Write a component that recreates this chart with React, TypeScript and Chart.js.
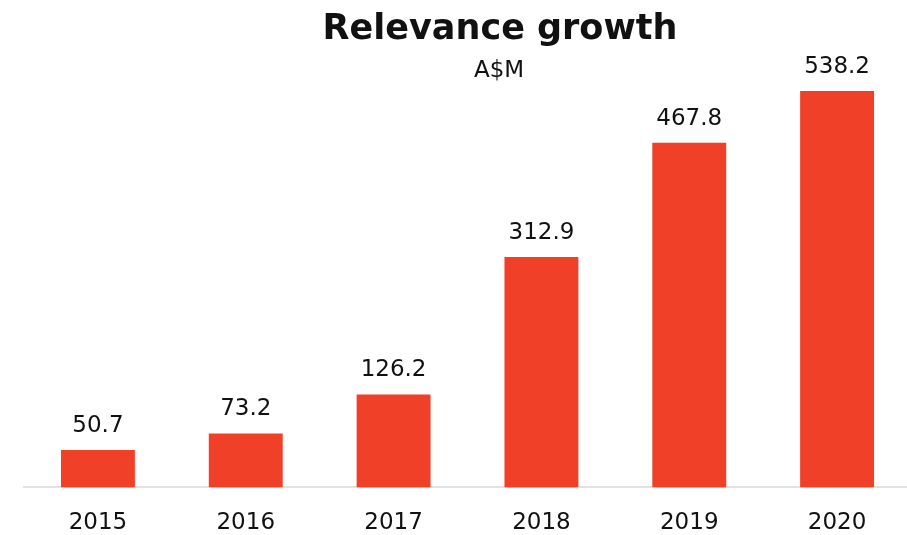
import React, { useEffect, useRef } from "react";
import { Chart, registerables } from "chart.js";

Chart.register(...registerables);

const categories = ["2015", "2016", "2017", "2018", "2019", "2020"];
const revenue = [50.7, 73.2, 126.2, 312.9, 467.8, 538.2];
const titleText = "Relevance growth";
const subtitleText = "A$M";

const FONT = "'DejaVu Sans', sans-serif";

const labelPlugin = {
  id: "valueLabels",
  afterDatasetsDraw(chart: any) {
    const ctx = chart.ctx;
    const meta = chart.getDatasetMeta(0);
    ctx.save();
    ctx.fillStyle = "#111111";
    ctx.font = `400 23px ${FONT}`;
    ctx.textAlign = "center";
    ctx.textBaseline = "alphabetic";
    meta.data.forEach((el: any, i: number) => {
      ctx.fillText(revenue[i].toFixed(1), el.x, el.y - 18);
    });
    ctx.restore();
  },
};

const titlePlugin = {
  id: "customTitle",
  afterDraw(chart: any) {
    const ctx = chart.ctx;
    ctx.save();
    ctx.fillStyle = "#111111";
    ctx.textAlign = "center";
    ctx.textBaseline = "alphabetic";
    ctx.font = `700 35px ${FONT}`;
    ctx.fillText(titleText, 500, 39);
    ctx.font = `400 23px ${FONT}`;
    ctx.fillText(subtitleText, 499, 77);
    ctx.restore();
  },
};

export default function App() {
  const ref = useRef<HTMLCanvasElement | null>(null);
  useEffect(() => {
    document.documentElement.style.overflow = "hidden";
    document.body.style.margin = "0";
    document.body.style.overflow = "hidden";
    const chart = new Chart(ref.current!, {
      type: "bar",
      data: {
        labels: categories,
        datasets: [
          {
            data: revenue,
            backgroundColor: "#F04128",
            borderWidth: 0,
            barPercentage: 0.5,
            categoryPercentage: 1.0,
          },
        ],
      },
      options: {
        animation: false,
        responsive: false,
        maintainAspectRatio: false,
        layout: { padding: { left: 24, right: 0, top: 45.5, bottom: -24 } },
        plugins: {
          legend: { display: false },
          title: { display: false },
          tooltip: { enabled: false },
        },
        scales: {
          x: {
            grid: { display: false, drawTicks: false },
            border: { display: true, color: "#e2e2e2", width: 2 },
            ticks: {
              color: "#111111",
              font: { family: FONT, size: 23 },
              padding: 22,
            },
          },
          y: {
            display: false,
            min: 0,
            max: 600,
          },
        },
      },
      plugins: [labelPlugin, titlePlugin],
    });
    return () => chart.destroy();
  }, []);
  return (
    <div style={{ width: 911, height: 535, position: "relative" }}>
      <canvas ref={ref} width={911} height={535} style={{ display: "block" }} />
    </div>
  );
}
